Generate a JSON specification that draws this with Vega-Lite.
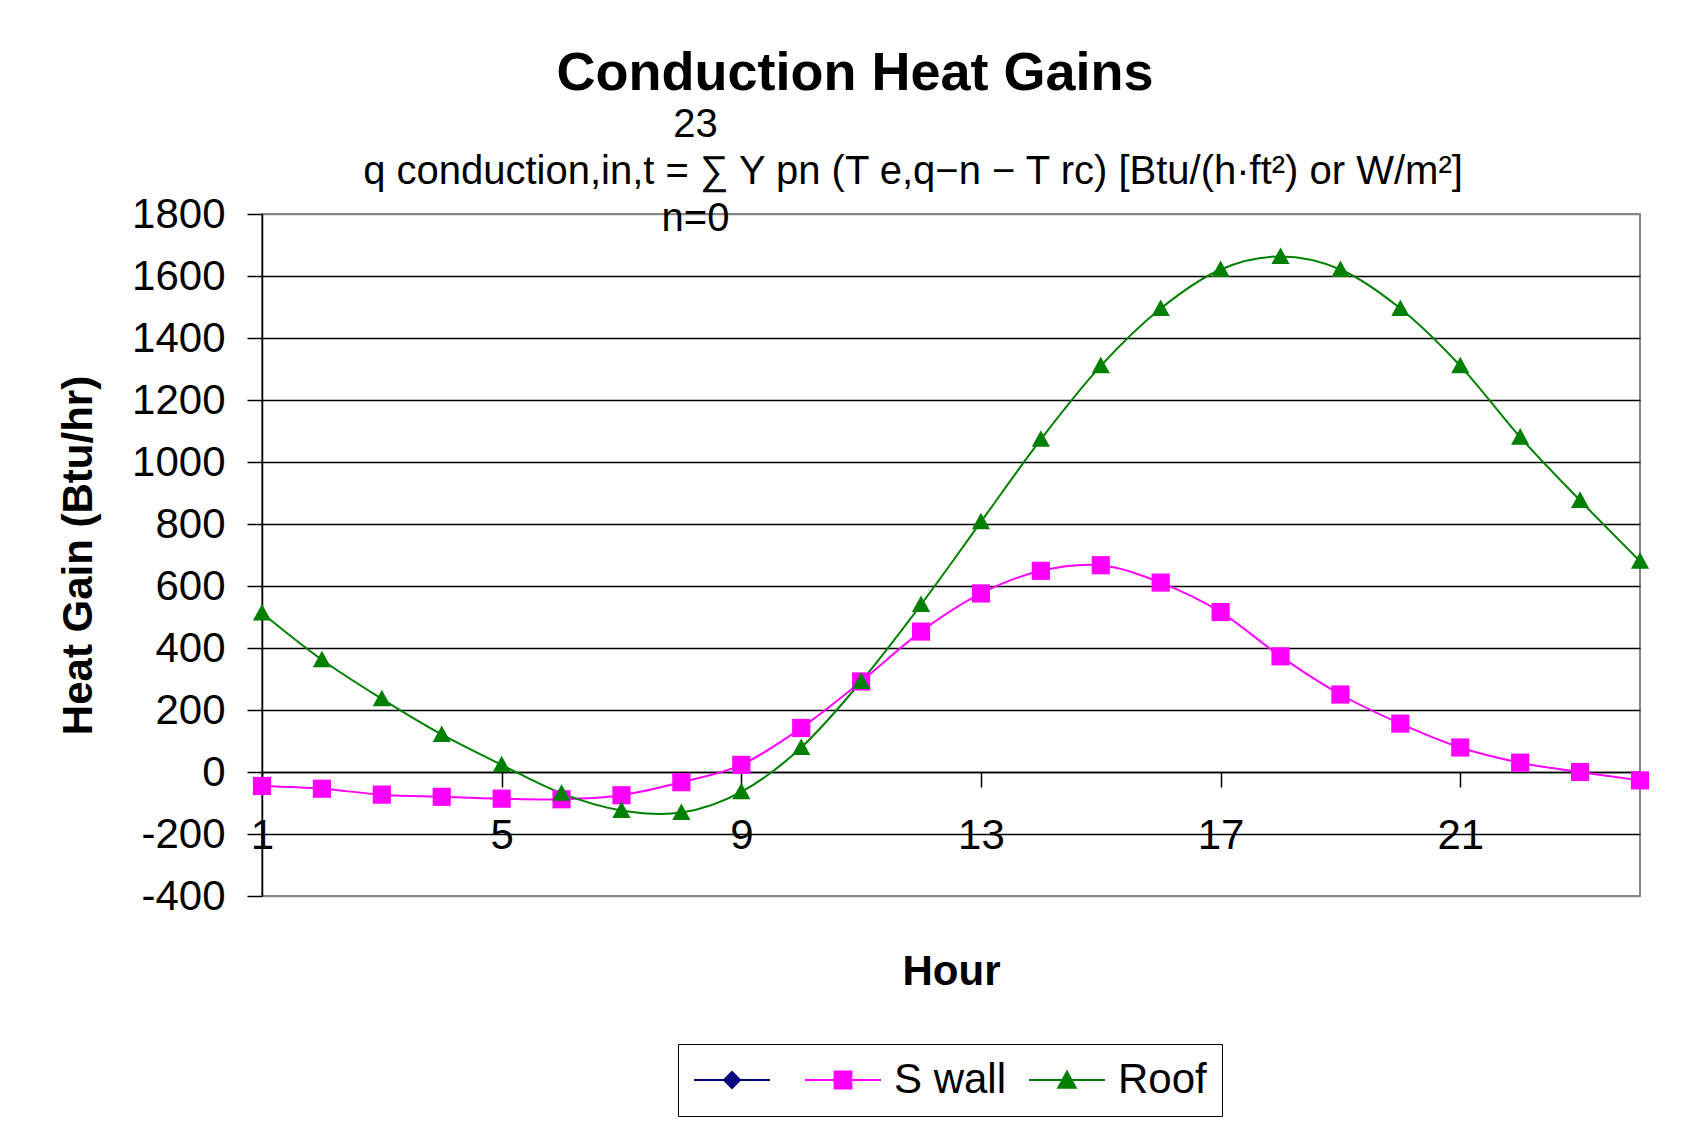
{
  "$schema": "https://vega.github.io/schema/vega-lite/v6.json",
  "autosize": {"type": "none"},
  "width": 1378,
  "height": 682,
  "padding": {"left": 262, "top": 214, "right": 60, "bottom": 226},
  "background": "white",
  "config": {
    "font": "Liberation Sans",
    "view": {"stroke": "#868686", "strokeWidth": 2}
  },
  "title": {
    "text": "Conduction Heat Gains",
    "subtitle": [
      "23\u2800\u2800\u2800\u2800\u2800\u2800\u2800\u2800\u2800\u2800\u2800",
      "\u2800\u2800\u2800\u2800q conduction,in,t = \u2211 Y pn (T e,q\u2212n \u2212 T rc)  [Btu/(h\u00b7ft\u00b2) or W/m\u00b2]",
      "n=0\u2800\u2800\u2800\u2800\u2800\u2800\u2800\u2800\u2800\u2800\u2800"
    ],
    "anchor": "middle",
    "dx": -96,
    "offset": -46,
    "font": "Liberation Sans",
    "fontSize": 54,
    "fontWeight": "bold",
    "color": "black",
    "subtitleFont": "Liberation Sans",
    "subtitleFontSize": 40,
    "subtitleLineHeight": 47,
    "subtitlePadding": 4,
    "subtitleColor": "black"
  },
  "datasets": {
    "heat": [
      {"hour": 1, "series": "S wall", "value": -45},
      {"hour": 2, "series": "S wall", "value": -54},
      {"hour": 3, "series": "S wall", "value": -73},
      {"hour": 4, "series": "S wall", "value": -80},
      {"hour": 5, "series": "S wall", "value": -86},
      {"hour": 6, "series": "S wall", "value": -88},
      {"hour": 7, "series": "S wall", "value": -75},
      {"hour": 8, "series": "S wall", "value": -33},
      {"hour": 9, "series": "S wall", "value": 23},
      {"hour": 10, "series": "S wall", "value": 142},
      {"hour": 11, "series": "S wall", "value": 292},
      {"hour": 12, "series": "S wall", "value": 453},
      {"hour": 13, "series": "S wall", "value": 576},
      {"hour": 14, "series": "S wall", "value": 649},
      {"hour": 15, "series": "S wall", "value": 667},
      {"hour": 16, "series": "S wall", "value": 611},
      {"hour": 17, "series": "S wall", "value": 516},
      {"hour": 18, "series": "S wall", "value": 373},
      {"hour": 19, "series": "S wall", "value": 250},
      {"hour": 20, "series": "S wall", "value": 156},
      {"hour": 21, "series": "S wall", "value": 79},
      {"hour": 22, "series": "S wall", "value": 30},
      {"hour": 23, "series": "S wall", "value": 0},
      {"hour": 24, "series": "S wall", "value": -27},
      {"hour": 1, "series": "Roof", "value": 513},
      {"hour": 2, "series": "Roof", "value": 362},
      {"hour": 3, "series": "Roof", "value": 236},
      {"hour": 4, "series": "Roof", "value": 121},
      {"hour": 5, "series": "Roof", "value": 23},
      {"hour": 6, "series": "Roof", "value": -69},
      {"hour": 7, "series": "Roof", "value": -124},
      {"hour": 8, "series": "Roof", "value": -131},
      {"hour": 9, "series": "Roof", "value": -64},
      {"hour": 10, "series": "Roof", "value": 79},
      {"hour": 11, "series": "Roof", "value": 292},
      {"hour": 12, "series": "Roof", "value": 540},
      {"hour": 13, "series": "Roof", "value": 807},
      {"hour": 14, "series": "Roof", "value": 1073},
      {"hour": 15, "series": "Roof", "value": 1310},
      {"hour": 16, "series": "Roof", "value": 1495},
      {"hour": 17, "series": "Roof", "value": 1621},
      {"hour": 18, "series": "Roof", "value": 1663},
      {"hour": 19, "series": "Roof", "value": 1621},
      {"hour": 20, "series": "Roof", "value": 1495},
      {"hour": 21, "series": "Roof", "value": 1310},
      {"hour": 22, "series": "Roof", "value": 1080},
      {"hour": 23, "series": "Roof", "value": 876},
      {"hour": 24, "series": "Roof", "value": 680}
    ]
  },
  "data": {"name": "heat"},
  "encoding": {
    "x": {
      "field": "hour",
      "type": "quantitative",
      "scale": {"domain": [1, 24], "nice": false, "zero": false},
      "axis": {
        "title": "Hour",
        "values": [1, 5, 9, 13, 17, 21],
        "labelExpr": "'' + datum.value",
        "offset": -124,
        "grid": false,
        "domainColor": "black",
        "domainWidth": 1.5,
        "tickColor": "black",
        "tickWidth": 1.5,
        "tickSize": 15,
        "labelFont": "Liberation Sans",
        "labelFontSize": 42,
        "labelColor": "black",
        "labelPadding": 28,
        "labelFlush": false,
        "labelOverlap": false,
        "titleFont": "Liberation Sans",
        "titleFontSize": 42,
        "titleFontWeight": "bold",
        "titleColor": "black",
        "titlePadding": 95
      }
    },
    "y": {
      "field": "value",
      "type": "quantitative",
      "scale": {"domain": [-400, 1800], "nice": false, "zero": false},
      "axis": {
        "title": "Heat Gain (Btu/hr)",
        "values": [-400, -200, 0, 200, 400, 600, 800, 1000, 1200, 1400, 1600, 1800],
        "labelExpr": "'' + datum.value",
        "grid": true,
        "gridColor": {"condition": {"test": "datum.value === 1800 || datum.value === -400", "value": "#868686"}, "value": "black"},
        "gridWidth": 1.5,
        "domainColor": "black",
        "domainWidth": 1.5,
        "tickColor": "black",
        "tickWidth": 1.5,
        "tickSize": 15,
        "labelFont": "Liberation Sans",
        "labelFontSize": 42,
        "labelColor": "black",
        "labelPadding": 22,
        "labelOverlap": false,
        "labelFlush": false,
        "titleFont": "Liberation Sans",
        "titleFontSize": 42,
        "titleFontWeight": "bold",
        "titleColor": "black",
        "titlePadding": 31
      }
    }
  },
  "layer": [
    {
      "transform": [{"filter": "datum.series === 'S wall'"}],
      "mark": {"type": "line", "interpolate": "cardinal", "strokeWidth": 2, "color": "#ff00ff"}
    },
    {
      "transform": [{"filter": "datum.series === 'Roof'"}],
      "mark": {"type": "line", "interpolate": "cardinal", "strokeWidth": 2, "color": "#008000"}
    },
    {
      "transform": [{"filter": "datum.series === 'S wall'"}],
      "mark": {"type": "point", "filled": true, "opacity": 1, "size": 330, "shape": "square", "color": "#ff00ff"}
    },
    {
      "transform": [{"filter": "datum.series === 'Roof'"}],
      "mark": {"type": "point", "filled": true, "opacity": 1, "size": 330, "shape": "M0,-1L1,0.82H-1Z", "color": "#008000"}
    },
    {
      "mark": {"type": "point", "filled": true, "opacity": 0, "size": 10},
      "encoding": {
        "color": {
          "field": "series",
          "type": "nominal",
          "scale": {"domain": [" ", "S wall", "Roof"], "range": ["#000080", "#ff00ff", "#008000"]},
          "legend": {
            "title": null,
            "orient": "none",
            "legendX": 416,
            "legendY": 830,
            "direction": "horizontal",
            "columns": 3,
            "padding": 15,
            "strokeColor": "black",
            "symbolSize": 1600,
            "symbolOpacity": 1,
            "symbolStrokeWidth": 0,
            "labelOffset": 48,
            "columnPadding": 21,
            "labelFont": "Liberation Sans",
            "labelFontSize": 42,
            "labelColor": "black",
            "labelLimit": 400,
            "labelExpr": "datum.value === ' ' ? '' : datum.label"
          }
        },
        "shape": {
          "field": "series",
          "type": "nominal",
          "scale": {
            "domain": [" ", "S wall", "Roof"],
            "range": [
              "M-1,-0.045H2.8V0.045H-1ZM0.9,-0.47L1.37,0L0.9,0.47L0.43,0Z",
              "M-1,-0.045H2.8V0.045H-1ZM0.43,-0.47H1.37V0.47H0.43Z",
              "M-1,-0.045H2.8V0.045H-1ZM0.9,-0.52L1.42,0.44H0.38Z"
            ]
          },
          "legend": {
            "title": null,
            "orient": "none",
            "legendX": 416,
            "legendY": 830,
            "direction": "horizontal",
            "columns": 3,
            "padding": 15,
            "strokeColor": "black",
            "symbolSize": 1600,
            "symbolOpacity": 1,
            "symbolStrokeWidth": 0,
            "labelOffset": 48,
            "columnPadding": 21,
            "labelFont": "Liberation Sans",
            "labelFontSize": 42,
            "labelColor": "black",
            "labelLimit": 400,
            "labelExpr": "datum.value === ' ' ? '' : datum.label"
          }
        }
      }
    }
  ]
}
